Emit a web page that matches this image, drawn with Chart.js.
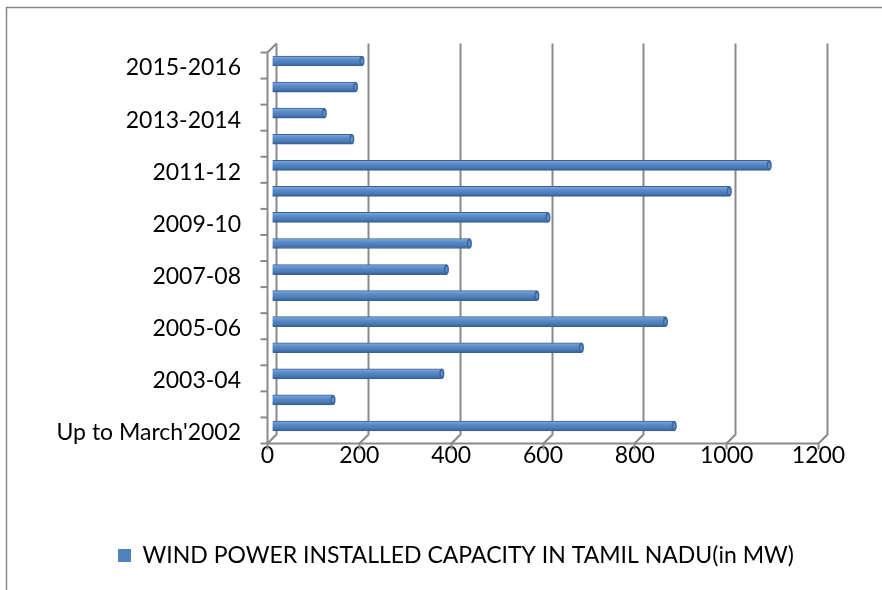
<!DOCTYPE html>
<html>
<head>
<meta charset="utf-8">
<script src="https://cdn.jsdelivr.net/npm/chart.js@4.4.1/dist/chart.umd.min.js"></script>
<style>
html,body{margin:0;padding:0;background:#fff;overflow:hidden;}
#wrap{position:relative;width:882px;height:590px;}
</style>
</head>
<body>
<div id="wrap"><canvas id="c" width="882" height="590"></canvas></div>
<script>
const categories = ["Up to March'2002","2002-03","2003-04","2004-05","2005-06","2006-07","2007-08","2008-09","2009-10","2010-11","2011-12","2012-13","2013-2014","2014-2015","2015-2016"];
const capacityMW = [877, 134, 371, 675, 858, 578, 381, 431, 602, 997, 1084, 175, 115, 183, 197];
const xTicks = [0, 200, 400, 600, 800, 1000, 1200];
const seriesName = "WIND POWER INSTALLED CAPACITY IN TAMIL NADU(in MW)";

const FONT = "Lato, 'Liberation Sans', sans-serif";
const GRID = '#8a8a8a';
const D = 4.5; // half depth of the 3D wall
const LEGEND_CENTER_X = 456;

const framePlugin = {
  id: 'frame',
  afterLayout(chart) {
    const lg = chart.legend;
    if (lg) {
      const shift = LEGEND_CENTER_X - (lg.left + lg.right) / 2;
      lg.left += shift;
      lg.right += shift;
    }
  },
  beforeDraw(chart) {
    const ctx = chart.ctx;
    ctx.save();
    ctx.strokeStyle = GRID;
    ctx.lineWidth = 1.5;
    ctx.beginPath();
    ctx.moveTo(6.5, 590);
    ctx.lineTo(6.5, 7.5);
    ctx.lineTo(882, 7.5);
    ctx.stroke();
    ctx.restore();
  },
  beforeDatasetsDraw(chart) {
    const ctx = chart.ctx;
    const xs = chart.scales.x, ys = chart.scales.y;
    const a = chart.chartArea;
    ctx.save();
    ctx.strokeStyle = GRID;
    ctx.lineWidth = 2;
    ctx.lineCap = 'butt';
    xTicks.forEach(v => {
      const px = Math.round(xs.getPixelForValue(v));
      ctx.beginPath();
      ctx.moveTo(px + D, a.top - D);
      ctx.lineTo(px + D, a.bottom - D);
      ctx.lineTo(px - D, a.bottom + D);
      ctx.lineTo(px - D, a.bottom + D + 6);
      ctx.stroke();
    });
    ctx.beginPath();
    ctx.moveTo(a.left - D, a.bottom + D);
    ctx.lineTo(a.right - D, a.bottom + D);
    ctx.stroke();
    ctx.beginPath();
    ctx.moveTo(a.left + D, a.top - D);
    ctx.lineTo(a.left - D, a.top + D);
    ctx.lineTo(a.left - D, a.bottom + D);
    ctx.stroke();
    const n = categories.length;
    for (let i = 0; i <= n; i++) {
      const y = ys.getPixelForValue(i - 0.5) + D;
      ctx.beginPath();
      ctx.moveTo(a.left - D - 7, y);
      ctx.lineTo(a.left - D, y);
      ctx.stroke();
    }
    ctx.restore();
  },
  afterDatasetsDraw(chart) {
    // cylinder-like end caps on each bar
    const ctx = chart.ctx;
    const meta = chart.getDatasetMeta(0);
    ctx.save();
    meta.data.forEach(bar => {
      const h = bar.height / 2;
      ctx.beginPath();
      ctx.ellipse(bar.x - 0.5, bar.y, 2.5, h, 0, 0, Math.PI * 2);
      ctx.fillStyle = '#3B659B';
      ctx.fill();
      ctx.beginPath();
      ctx.ellipse(bar.x - 0.5, bar.y, 1.2, h - 2, 0, 0, Math.PI * 2);
      ctx.fillStyle = '#5E8ECB';
      ctx.fill();
    });
    ctx.restore();
  }
};

function barFill(context) {
  const chart = context.chart;
  const ys = chart.scales && chart.scales.y;
  const yc = ys ? ys.getPixelForValue(context.dataIndex) : NaN;
  if (!isFinite(yc)) return '#4F81BD';
  const g = chart.ctx.createLinearGradient(0, yc - 5, 0, yc + 5);
  g.addColorStop(0, '#86ABDB');
  g.addColorStop(0.35, '#5A8CCB');
  g.addColorStop(0.75, '#4A78B2');
  g.addColorStop(1, '#345C8F');
  return g;
}

new Chart(document.getElementById('c'), {
  type: 'bar',
  data: {
    labels: categories,
    datasets: [{
      label: seriesName,
      data: capacityMW,
      backgroundColor: barFill,
      borderColor: '#3A6294',
      borderWidth: 1,
      barThickness: 10
    }]
  },
  options: {
    indexAxis: 'y',
    responsive: false,
    animation: false,
    layout: { padding: { left: 20, right: 59, top: 48, bottom: 13 } },
    scales: {
      x: {
        min: 0, max: 1200,
        afterBuildTicks(scale) { scale.ticks = xTicks.map(v => ({ value: v })); },
        afterFit(scale) { scale.height = 95; },
        grid: { display: true, drawOnChartArea: false, drawTicks: false, color: 'rgba(0,0,0,0)' },
        border: { display: false },
        ticks: {
          color: '#000', font: { family: FONT, size: 23 }, padding: 3, labelOffset: -D,
          callback(v) { return String(v); }
        }
      },
      y: {
        reverse: true,
        afterFit(scale) { scale.width = 252; },
        grid: { display: true, drawOnChartArea: false, drawTicks: false, color: 'rgba(0,0,0,0)' },
        border: { display: false },
        ticks: {
          autoSkip: false,
          color: '#000',
          font: { family: FONT, size: 23 },
          padding: 31,
          labelOffset: 7,
          callback(v, i) { return i % 2 === 0 ? categories[i] : ''; }
        }
      }
    },
    plugins: {
      legend: {
        position: 'bottom',
        labels: { color: '#000', font: { family: FONT, size: 23 }, boxWidth: 13, boxHeight: 13, padding: 10,
          generateLabels(chart) {
            return [{ text: seriesName, fillStyle: '#4F81BD', strokeStyle: '#4F81BD', lineWidth: 0, datasetIndex: 0 }];
          }
        }
      },
      tooltip: { enabled: false }
    }
  },
  plugins: [framePlugin]
});
</script>
</body>
</html>
